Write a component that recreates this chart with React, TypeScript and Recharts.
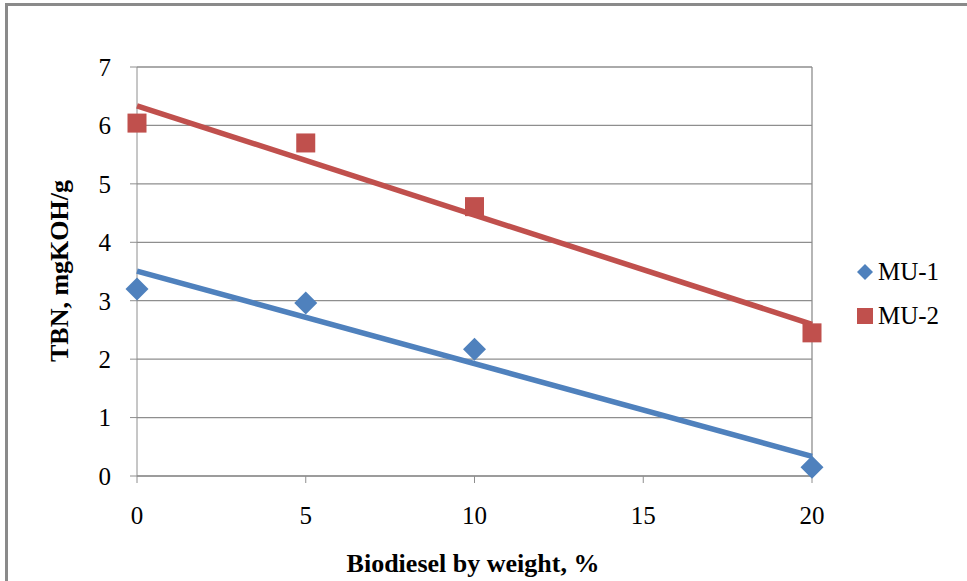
import React from 'react';
import { ComposedChart, Scatter, XAxis, YAxis, CartesianGrid, ReferenceLine, Legend } from 'recharts';

const biodieselPct = [0, 5, 10, 20];
const mu1Values = [3.2, 2.96, 2.17, 0.15];
const mu2Values = [6.04, 5.7, 4.61, 2.45];
const xTicks = [0, 5, 10, 15, 20];
const yTicks = [0, 1, 2, 3, 4, 5, 6, 7];
const seriesNames = ['MU-1', 'MU-2'];
const xTitle = 'Biodiesel by weight, %';
const yTitle = 'TBN, mgKOH/g';

const BLUE = '#4F81BD';
const RED = '#C0504D';
const GRID = '#8e8e8e';
const FONT = '"Liberation Serif", "Times New Roman", serif';

const mu1Data = biodieselPct.map((x, i) => ({ x, y: mu1Values[i] }));
const mu2Data = biodieselPct.map((x, i) => ({ x, y: mu2Values[i] }));

const Diamond = (props: any) => {
  const { cx, cy } = props;
  const r = 11.5;
  return <polygon points={`${cx},${cy - r} ${cx + r},${cy} ${cx},${cy + r} ${cx - r},${cy}`} fill={BLUE} />;
};

const Square = (props: any) => {
  const { cx, cy } = props;
  const s = 19;
  return <rect x={cx - s / 2} y={cy - s / 2} width={s} height={s} fill={RED} />;
};

const LegendContent = () => (
  <div style={{ fontFamily: FONT, fontSize: 25, color: '#000', lineHeight: '44px' }}>
    <div style={{ display: 'flex', alignItems: 'center' }}>
      <svg width={20} height={20} style={{ marginRight: 3 }}>
        <polygon points="10,2 18,10 10,18 2,10" fill={BLUE} />
      </svg>
      <span>{seriesNames[0]}</span>
    </div>
    <div style={{ display: 'flex', alignItems: 'center' }}>
      <svg width={20} height={20} style={{ marginRight: 3 }}>
        <rect x={2} y={2} width={16} height={16} fill={RED} />
      </svg>
      <span>{seriesNames[1]}</span>
    </div>
  </div>
);

export default function App() {
  return (
    <div style={{ position: 'absolute', left: 0, top: 0, width: 967, height: 581, overflow: 'hidden', background: '#fff' }}>
      <div style={{ position: 'absolute', left: 5, top: 3, width: 1100, height: 800, border: '3px solid #8a8a8a' }} />
      <div style={{ position: 'absolute', left: 0, top: 0 }}>
        <ComposedChart width={967} height={581} margin={{ top: 67, right: 155, bottom: 0, left: 0 }}>
          <CartesianGrid vertical={false} stroke={GRID} strokeWidth={1.3} />
          <XAxis
            type="number"
            dataKey="x"
            domain={[0, 20]}
            ticks={xTicks}
            height={105}
            tickSize={7}
            tickMargin={23}
            stroke={GRID}
            tick={{ fill: '#000', fontSize: 25, fontFamily: FONT }}
            label={{
              content: () => (
                <text x={473} y={572} textAnchor="middle" fontFamily={FONT} fontWeight="bold" fontSize={26} fill="#000">
                  {xTitle}
                </text>
              ),
            }}
          />
          <YAxis
            type="number"
            dataKey="y"
            domain={[0, 7]}
            ticks={yTicks}
            width={137}
            tickSize={7}
            tickMargin={19}
            stroke={GRID}
            tick={{ fill: '#000', fontSize: 25, fontFamily: FONT }}
            label={{
              content: () => (
                <text
                  x={68}
                  y={271}
                  transform="rotate(-90 68 271)"
                  textAnchor="middle"
                  fontFamily={FONT}
                  fontWeight="bold"
                  fontSize={26}
                  fill="#000"
                >
                  {yTitle}
                </text>
              ),
            }}
          />
          <ReferenceLine x={20} stroke={GRID} strokeWidth={1.3} />
          <Scatter
            name={seriesNames[0]}
            data={mu1Data}
            fill={BLUE}
            shape={Diamond}
            line={{ stroke: BLUE, strokeWidth: 5.5 }}
            lineType="fitting"
            isAnimationActive={false}
          />
          <Scatter
            name={seriesNames[1]}
            data={mu2Data}
            fill={RED}
            shape={Square}
            line={{ stroke: RED, strokeWidth: 5.5 }}
            lineType="fitting"
            isAnimationActive={false}
          />
          <Legend
            layout="horizontal"
            verticalAlign="middle"
            align="center"
            content={LegendContent}
            wrapperStyle={{ position: 'absolute', left: 855, top: 250, width: 110 }}
          />
        </ComposedChart>
      </div>
    </div>
  );
}
